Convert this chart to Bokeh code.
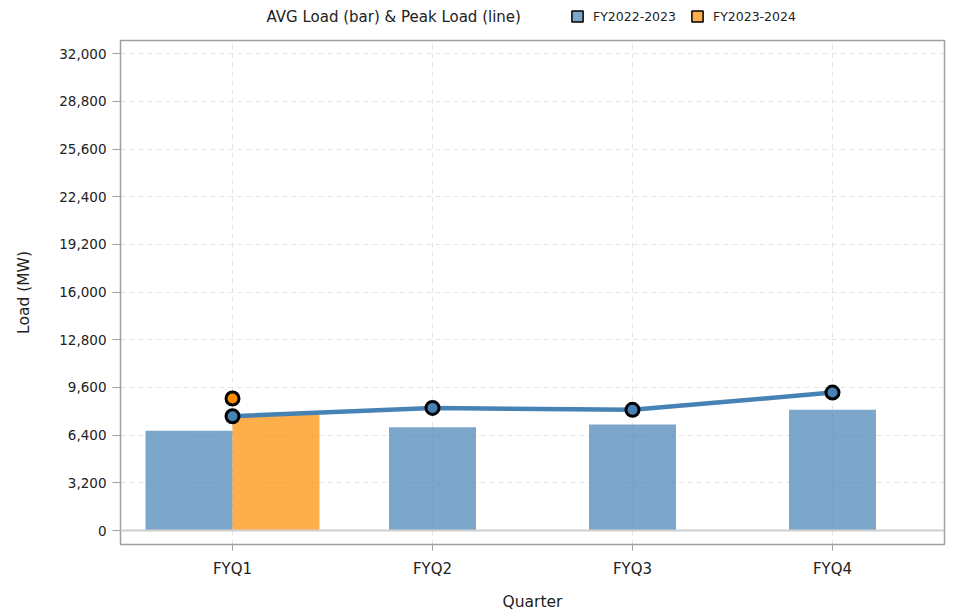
from bokeh.plotting import figure
from bokeh.layouts import column
from bokeh.models import (FactorRange, Range1d, ColumnDataSource, Legend, LegendItem,
                          FixedTicker, NumeralTickFormatter, Span, Label)
from bokeh.transform import dodge
from bokeh.embed import file_html
from bokeh.resources import INLINE

quarters = ["FYQ1", "FYQ2", "FYQ3", "FYQ4"]
series = ["FY2022-2023", "FY2023-2024"]
legend_title = "AVG Load (bar) & Peak Load (line)"
avg_fy2223 = [6700, 6930, 7110, 8100]
avg_fy2324_quarters = ["FYQ1"]
avg_fy2324 = [7780]
peak_fy2223 = [7670, 8230, 8100, 9260]
peak_fy2324_quarters = ["FYQ1"]
peak_fy2324 = [8860]
y_ticks = [0, 3200, 6400, 9600, 12800, 16000, 19200, 22400, 25600, 28800, 32000]

FONT = "DejaVu Sans"
BLUE = "steelblue"
ORANGE = "darkorange"
BW = 0.435

# ---------- legend strip (top) ----------
top = figure(width=946, height=38, x_range=Range1d(120, 944), y_range=Range1d(0, 38),
             x_axis_type=None, y_axis_type=None, min_border=0,
             output_backend="svg", toolbar_location=None)
top.outline_line_color = None
top.grid.visible = False
top.add_layout(Label(x=266, y=22, text=legend_title, text_font=FONT, text_font_size="15px",
                     text_color="#222222", text_align="left", text_baseline="middle"))
nan = float("nan")
d1 = top.vbar(x=[nan], top=[nan], bottom=[nan], width=1, fill_color=BLUE, fill_alpha=0.7,
              line_color="black", line_width=1.5)
d2 = top.vbar(x=[nan], top=[nan], bottom=[nan], width=1, fill_color=ORANGE, fill_alpha=0.7,
              line_color="black", line_width=1.5)
legend = Legend(items=[LegendItem(label=series[0], renderers=[d1]),
                       LegendItem(label=series[1], renderers=[d2])],
                orientation="horizontal", location=(450, 12),
                border_line_color=None, background_fill_alpha=0,
                glyph_width=14, glyph_height=14, label_height=20,
                label_text_font=FONT, label_text_font_size="12.5px", label_text_color="#222222",
                spacing=14, label_standoff=9, padding=0, margin=0)
top.add_layout(legend, "center")

# ---------- main chart ----------
p = figure(x_range=FactorRange(factors=quarters, range_padding=0.03),
           y_range=Range1d(-939, 32893),
           width=946, height=575,
           min_border_left=120, min_border_right=2, min_border_top=2, min_border_bottom=69,
           output_backend="svg", toolbar_location=None)

p.outline_line_color = "#a0a0a0"
p.outline_line_width = 1.5
p.background_fill_color = "white"
p.border_fill_color = "white"

for g in (p.xgrid, p.ygrid):
    g.grid_line_color = "#e4e4e4"
    g.grid_line_dash = "5 4"
    g.grid_line_width = 1
p.yaxis.ticker = FixedTicker(ticks=y_ticks)
p.yaxis.formatter = NumeralTickFormatter(format="0,0")

for ax in (p.xaxis, p.yaxis):
    ax.axis_line_color = None
    ax.major_tick_line_color = "#a0a0a0"
    ax.major_tick_in = 1
    ax.minor_tick_line_color = None
    ax.major_label_text_font = FONT
    ax.major_label_text_color = "#222222"
    ax.axis_label_text_font = FONT
    ax.axis_label_text_font_size = "15.5px"
    ax.axis_label_text_font_style = "normal"
    ax.axis_label_text_color = "#222222"
p.yaxis.major_tick_out = 8
p.xaxis.major_tick_out = 6
p.yaxis.major_label_text_font_size = "13.5px"
p.xaxis.major_label_text_font_size = "15px"
p.xaxis.axis_label = "Quarter"
p.yaxis.axis_label = "Load (MW)"
p.xaxis.major_label_standoff = 9
p.yaxis.major_label_standoff = 6
p.xaxis.axis_label_standoff = 12
p.yaxis.axis_label_standoff = 23

src_a1 = ColumnDataSource(dict(q=quarters[:1], v=avg_fy2223[:1]))
src_a2 = ColumnDataSource(dict(q=quarters[1:], v=avg_fy2223[1:]))
src_b = ColumnDataSource(dict(q=avg_fy2324_quarters, v=avg_fy2324))

p.vbar(x=dodge("q", -BW / 2, range=p.x_range), top="v", bottom=0, width=BW, source=src_a1,
       fill_color=BLUE, fill_alpha=0.7, line_color=None)
p.vbar(x="q", top="v", bottom=0, width=BW, source=src_a2,
       fill_color=BLUE, fill_alpha=0.7, line_color=None)
p.vbar(x=dodge("q", BW / 2, range=p.x_range), top="v", bottom=0, width=BW, source=src_b,
       fill_color=ORANGE, fill_alpha=0.7, line_color=None)

p.add_layout(Span(location=0, dimension="width", line_color="#cfcfcf", line_width=2))

src_p = ColumnDataSource(dict(q=quarters, v=peak_fy2223))
src_p2 = ColumnDataSource(dict(q=peak_fy2324_quarters, v=peak_fy2324))
p.line(x="q", y="v", source=src_p, line_color=BLUE, line_width=4.5)
p.scatter(x="q", y="v", source=src_p, size=13, fill_color=BLUE, line_color="black", line_width=3)
p.scatter(x="q", y="v", source=src_p2, size=13, fill_color=ORANGE, line_color="black", line_width=3)

layout = column(top, p, spacing=0)
open("out.html", "w").write(file_html(layout, INLINE))
